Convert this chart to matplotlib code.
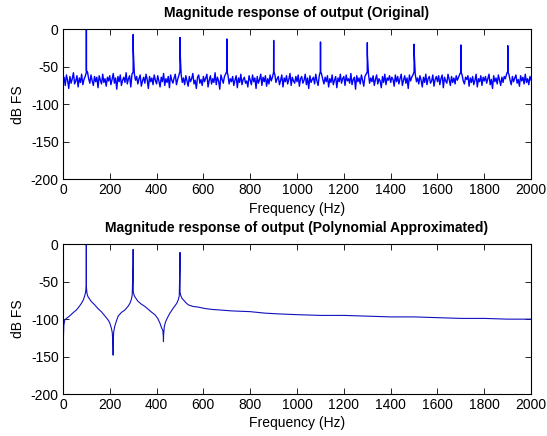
import numpy as np
import matplotlib
matplotlib.use("Agg")
import matplotlib.pyplot as plt

plt.rcParams['font.family'] = ['Liberation Sans', 'DejaVu Sans']
plt.rcParams['axes.unicode_minus'] = False

# top plot: noise floor read every 5 Hz from 0 to 2000 Hz
noise_step = 5
noise_db = [
    -70, -64, -75, -61, -68, -79, -63, -72, -66, -58, -73, -69, -62, -77, -65, -71, -60, -74, -67, -63,
    -58, -57, -66, -72, -61, -69, -75, -63, -70, -64, -78, -62, -68, -73, -60, -71, -66, -76, -64, -69,
    -62, -74, -67, -59, -72, -65, -80, -63, -70, -61, -75, -68, -64, -71, -58, -73, -66, -62, -77, -60,
    -57, -59, -68, -63, -73, -66, -61, -76, -69, -64, -72, -60, -67, -79, -63, -70, -65, -74, -61, -68,
    -73, -62, -69, -77, -64, -70, -59, -75, -66, -71, -63, -78, -61, -68, -72, -65, -60, -74, -67, -62,
    -56, -60, -71, -65, -74, -62, -69, -76, -63, -70, -66, -59, -73, -68, -79, -64, -61, -72, -67, -75,
    -63, -70, -65, -60, -77, -68, -62, -73, -66, -71, -58, -74, -64, -69, -80, -61, -67, -72, -63, -60,
    -56, -61, -73, -66, -70, -63, -75, -68, -62, -78, -65, -71, -60, -74, -67, -64, -72, -69, -77, -62,
    -68, -74, -61, -70, -65, -79, -63, -72, -67, -60, -75, -64, -70, -62, -76, -66, -73, -61, -69, -64,
    -57, -60, -71, -66, -63, -74, -68, -61, -77, -65, -70, -62, -73, -67, -59, -75, -64, -69, -72, -63,
    -70, -61, -76, -66, -63, -72, -68, -60, -74, -65, -79, -62, -71, -67, -64, -73, -60, -69, -75, -62,
    -56, -60, -67, -73, -64, -70, -62, -77, -66, -71, -61, -74, -68, -63, -78, -65, -70, -60, -72, -66,
    -63, -75, -61, -69, -66, -72, -59, -74, -67, -64, -80, -62, -70, -65, -73, -61, -68, -76, -63, -60,
    -57, -59, -72, -65, -70, -62, -75, -67, -61, -73, -66, -69, -78, -63, -71, -60, -74, -65, -68, -62,
    -71, -64, -67, -76, -61, -70, -63, -73, -66, -60, -75, -68, -62, -72, -65, -79, -61, -69, -64, -61,
    -57, -60, -70, -65, -73, -62, -68, -77, -64, -71, -60, -74, -66, -63, -72, -69, -61, -76, -67, -63,
    -70, -62, -74, -66, -61, -78, -64, -69, -72, -60, -67, -75, -63, -71, -65, -73, -62, -68, -64, -60,
    -57, -61, -69, -73, -64, -67, -62, -76, -65, -71, -63, -74, -68, -60, -77, -66, -70, -62, -75, -64,
    -69, -63, -72, -66, -60, -74, -67, -79, -62, -70, -65, -73, -61, -68, -75, -64, -71, -63, -66, -60,
    -56, -60, -68, -74, -63, -70, -65, -61, -72, -67, -76, -62, -69, -64, -73, -60, -71, -66, -74, -63,
    -68,
]

# tones in the original output (peak level and the level of the bin beside it)
tone_freq = [100, 300, 500, 700, 900, 1100, 1300, 1500, 1700, 1900]
tone_peak = [0, -7, -11, -13, -15, -17, -18, -20, -21, -22]
tone_side = [-55, -28, -30, -56, -57, -56, -34, -32, -57, -57]

# bottom plot: polynomial approximated output
poly_freq = [0, 1, 2, 4, 8, 15, 28, 45, 57, 70, 79, 88, 93, 97, 99.5, 100, 100.5,
             103, 107, 120, 136, 150, 164, 180, 193, 200, 207, 211, 213, 214, 214.5,
             215, 217, 221, 228, 236, 250, 264, 278, 286, 292, 296, 299.5, 300, 300.5,
             303, 307, 320, 335, 350, 365, 380, 393, 405, 414, 422, 427, 429, 429.5,
             430, 433, 438, 445, 457, 470, 486, 493, 497, 499.5, 500, 500.5, 503, 508,
             514, 525, 536, 555, 579, 610, 636, 680, 721, 800, 864, 921, 1000, 1100,
             1200, 1300, 1400, 1500, 1600, 1700, 1800, 1900, 2000]
poly_db = [-200, -160, -125, -108, -101, -99, -96, -91, -88, -83, -79, -74, -69, -64, -56, 0, -58,
           -66, -70, -76, -81, -86, -90, -96, -101, -105, -112, -118, -130, -136, -148,
           -128, -117, -110, -103, -96, -91, -88, -83, -79, -74, -68, -30, -7, -63,
           -67, -70, -76, -80, -83, -87, -91, -94, -99, -105, -112, -115, -124, -130,
           -122, -110, -104, -99, -92, -86, -79, -74, -69, -32, -11, -64, -68, -72,
           -74, -78, -81, -83, -84, -86, -87, -88, -89, -90, -92, -93, -94, -95,
           -95, -96, -97, -97, -98, -99, -99, -100, -100]

# merge noise grid and narrow tone spikes into one trace
freq_top = list(np.arange(len(noise_db)) * noise_step) \
    + [f + 0.3 for f in tone_freq] + [f + 0.6 for f in tone_freq]
db_top = list(noise_db) + tone_peak + tone_side
order = np.argsort(freq_top, kind='stable')
freq_top = np.array(freq_top, dtype=float)[order]
db_top = np.array(db_top, dtype=float)[order]

fig = plt.figure(figsize=(5.47, 4.36), dpi=100)
ax1 = fig.add_axes([0.115, 0.589, 0.856, 0.344])
ax2 = fig.add_axes([0.115, 0.096, 0.856, 0.344])

ax1.plot(freq_top, db_top, color='#0000ff', lw=1.0)
ax2.plot(poly_freq, poly_db, color='#1010c0', lw=0.8)

titles = ['Magnitude response of output (Original)',
          'Magnitude response of output (Polynomial Approximated)']
for ax, t in zip([ax1, ax2], titles):
    ax.set_xlim(0, 2000)
    ax.set_ylim(-200, 0)
    ax.set_xticks(np.arange(0, 2001, 200))
    ax.set_yticks([-200, -150, -100, -50, 0])
    ax.tick_params(direction='in', top=True, right=True, length=4.5, width=0.6,
                   labelsize=10, pad=3)
    for s in ax.spines.values():
        s.set_linewidth(0.8)
    ax.set_title(t, fontsize=10, fontweight='bold', pad=9)
    ax.set_xlabel('Frequency (Hz)', fontsize=10, labelpad=3)
    ax.set_ylabel('dB FS', fontsize=10, labelpad=4)

fig.savefig('out.png', dpi=100)
